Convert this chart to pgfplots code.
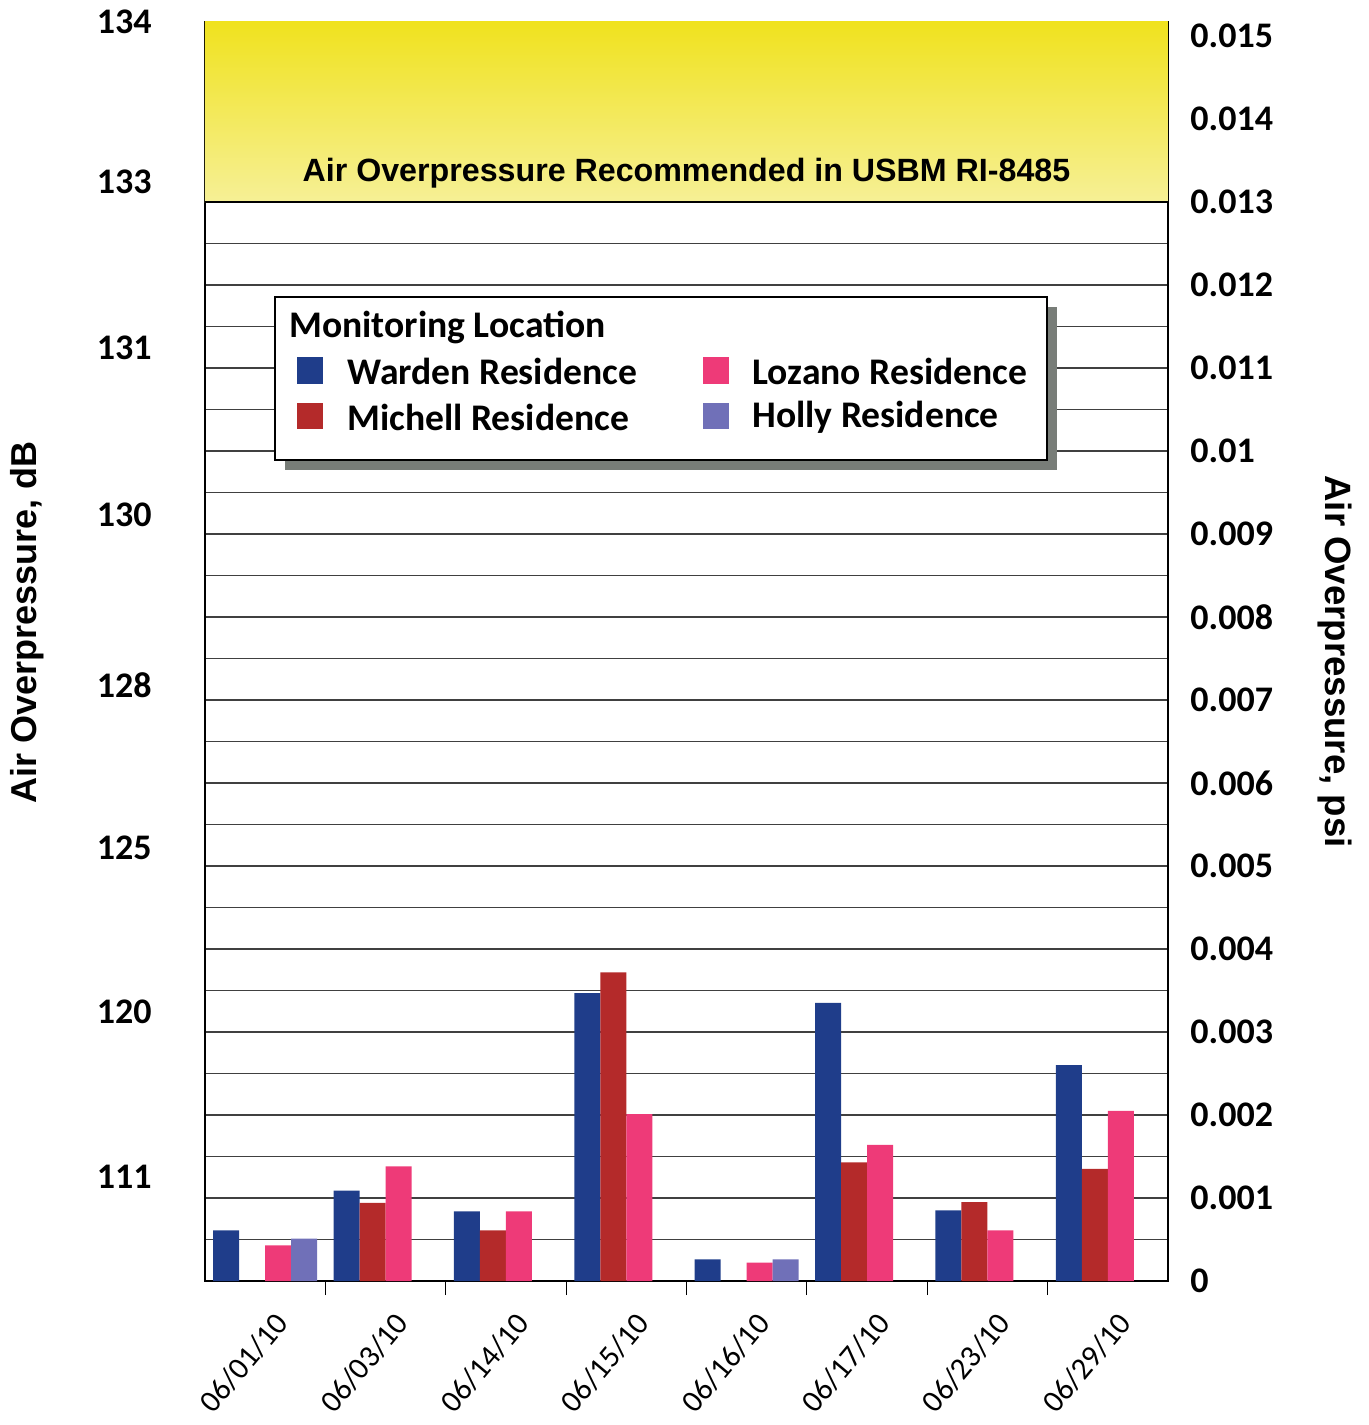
\documentclass[border=0pt]{standalone}
\usepackage{fontspec}
\setmainfont{Carlito}
\newfontfamily\arial{Liberation Sans}
\usepackage{pgfplots}
\usepackage{pgfplotstable}
\pgfplotsset{compat=1.18}

\definecolor{warden}{RGB}{31,61,138}
\definecolor{michell}{RGB}{180,42,42}
\definecolor{lozano}{RGB}{238,58,120}
\definecolor{holly}{RGB}{112,112,184}
\definecolor{bandtop}{RGB}{240,226,30}
\definecolor{bandbot}{RGB}{246,240,150}
\definecolor{shadow}{RGB}{120,125,120}

% psi values per date; nan = no bar
\pgfplotstableread{
x warden  michell lozano  holly
0 0.00061 nan     0.00043 0.00051
1 0.00109 0.00094 0.00138 nan
2 0.00084 0.00061 0.00084 nan
3 0.00347 0.00372 0.00201 nan
4 0.00026 nan     0.00022 0.00026
5 0.00335 0.00143 0.00164 nan
6 0.00085 0.00095 0.00061 nan
7 0.00260 0.00135 0.00205 nan
}\data

\newcommand{\bigf}{\fontsize{18}{21}\selectfont}
\newcommand{\legf}{\fontsize{18.8}{22}\selectfont}

\begin{document}
\begin{tikzpicture}
\path[use as bounding box] (-102.5pt,-72pt) rectangle (582pt,640.5pt);

% left dB labels
\begin{axis}[
  scale only axis, width=481.5pt, height=629.5pt,
  at={(0,0)}, anchor=south west,
  xmin=-0.5, xmax=7.5, ymin=0, ymax=0.01517,
  hide x axis, axis y line*=left, axis line style={draw=none},
  major tick length=0pt,
  ytick={0.00125,0.00324,0.00522,0.00718,0.00923,0.01125,0.01324,0.01517},
  yticklabels={111,120,125,128,130,131,133,134},
  yticklabel style={font=\bigf\bfseries, inner sep=0pt, xshift=-26.5pt, anchor=east},
  ylabel={\arial\bfseries Air Overpressure, dB},
  ylabel style={font=\bigf, at={(axis description cs:-0.185,0.523)}, anchor=center},
]
\end{axis}

\begin{axis}[
  scale only axis, width=481.5pt, height=629.5pt,
  at={(0,0)}, anchor=south west,
  xmin=-0.5, xmax=7.5, ymin=0, ymax=0.01517,
  ybar=0pt, bar width=13pt,
  axis line style={line width=1.3pt},
  xtick={0,...,7},
  xticklabels={06/01/10,06/03/10,06/14/10,06/15/10,06/16/10,06/17/10,06/23/10,06/29/10},
  minor xtick={0.5,1.5,...,6.5},
  xtick pos=left,
  major x tick style={draw=none},
  minor x tick style={black, line width=0.6pt},
  minor tick length=7pt,
  xticklabel style={font=\fontsize{15.5}{17}\selectfont, xshift=8.5pt, yshift=-14pt, rotate=50, anchor=east, inner sep=0pt},
  ytick={0,0.001,0.002,0.003,0.004,0.005,0.006,0.007,0.008,0.009,0.010,0.011,0.012,0.013,0.014,0.015},
  yticklabels={0,0.001,0.002,0.003,0.004,0.005,0.006,0.007,0.008,0.009,0.01,0.011,0.012,0.013,0.014,0.015},
  minor ytick={0.0005,0.0015,0.0025,0.0035,0.0045,0.0055,0.0065,0.0075,0.0085,0.0095,0.0105,0.0115,0.0125},
  ymajorgrids, yminorgrids,
  major grid style={black!75, line width=0.7pt},
  minor grid style={black!75, line width=0.7pt},
  ytick pos=right, yticklabel pos=right,
  major y tick style={draw=none},
  minor y tick style={draw=none},
  yticklabel style={font=\bigf\bfseries, inner sep=0pt, xshift=11pt, anchor=west},
  scaled y ticks=false,
  ylabel={\arial\bfseries Air Overpressure, psi},
  ylabel style={font=\fontsize{18.3}{21}\selectfont, at={(axis description cs:1.173,0.492)}, anchor=center, rotate=180},
]
\addplot[fill=warden, draw=none] table[x=x, y=warden] {\data};
\addplot[fill=michell, draw=none] table[x=x, y=michell] {\data};
\addplot[fill=lozano, draw=none] table[x=x, y=lozano] {\data};
\addplot[fill=holly, draw=none] table[x=x, y=holly] {\data};

\shade[top color=bandtop, bottom color=bandbot] (axis cs:-0.5,0.013) rectangle (axis cs:7.5,0.01517);
\draw[line width=1.4pt] (axis cs:-0.5,0.013) -- (axis cs:7.5,0.013);
\node[font=\arial\bfseries\fontsize{16.1}{19}\selectfont] at (axis cs:3.5,0.01335) {Air Overpressure Recommended in USBM RI-8485};
\end{axis}

% legend, in image pixel coordinates
\begin{scope}[shift={(-102.5pt,640.5pt)}, x=0.5pt, y=-0.5pt]
\fill[shadow] (285,307) rectangle (1057,470);
\filldraw[fill=white, draw=black, line width=1.2pt] (275,297) rectangle (1047,460);
\node[anchor=west, inner sep=0pt, font=\legf\bfseries] at (289,327) {Monitoring Location};
\fill[warden] (297,357) rectangle (323,384);
\node[anchor=west, inner sep=0pt, font=\legf\bfseries] at (347,371) {Warden Residence};
\fill[michell] (297,403) rectangle (323,429);
\node[anchor=west, inner sep=0pt, font=\legf\bfseries] at (347,417) {Michell Residence};
\fill[lozano] (703,357) rectangle (729,384);
\node[anchor=west, inner sep=0pt, font=\legf\bfseries] at (752,371) {Lozano Residence};
\fill[holly] (703,403) rectangle (729,429);
\node[anchor=west, inner sep=0pt, font=\legf\bfseries] at (752,417) {Holly Residence};
\end{scope}
\end{tikzpicture}
\end{document}
